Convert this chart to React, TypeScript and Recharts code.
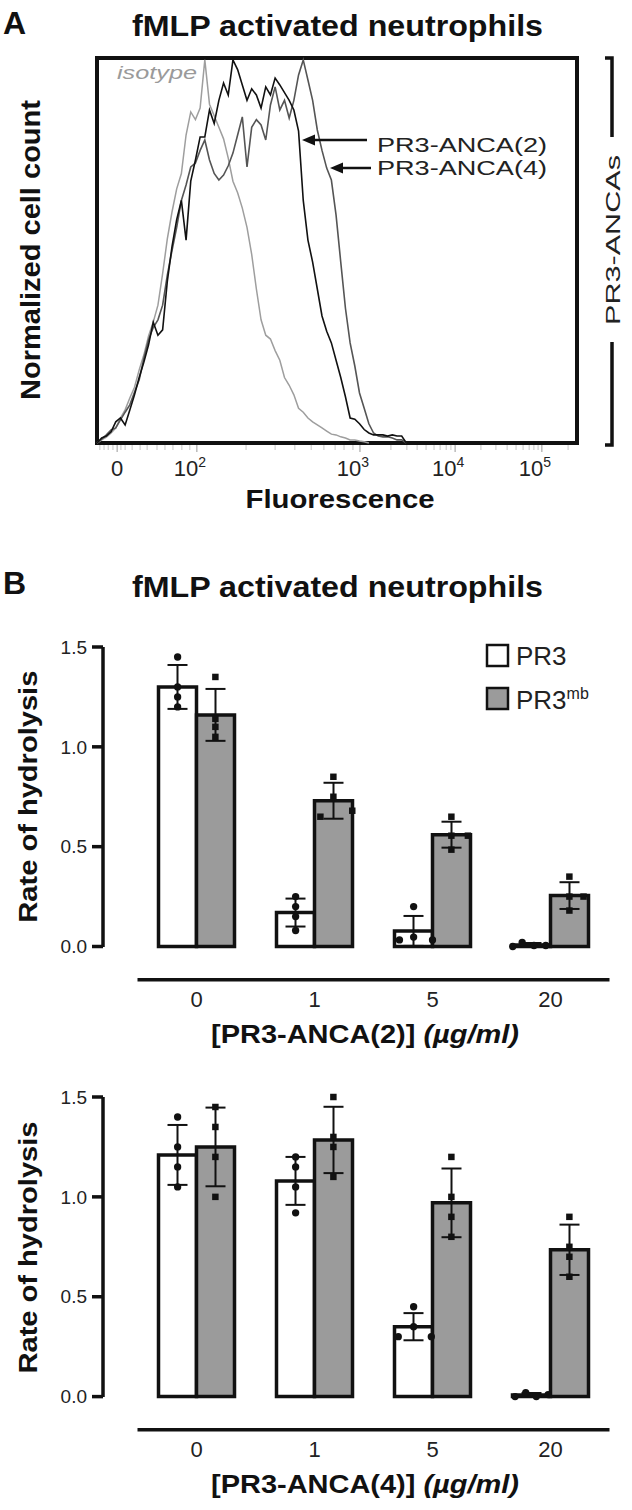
import {
  ComposedChart, LineChart, Line, Bar, Scatter, ErrorBar,
  XAxis, YAxis, ZAxis, ReferenceArea, ReferenceLine,
} from 'recharts';

const FONT = '"Liberation Sans", Arial, Helvetica, sans-serif';
const INK = '#111';
const BAR_GRAY = '#9b9b9b';

// Panel A: flow histograms. x = display channel (0-1024), y = normalized count (0-100)
const channels = [
  0, 10, 20, 30, 40, 50, 60, 70, 80, 90,
  100, 110, 120, 130, 140, 150, 160, 170, 180, 190,
  200, 210, 220, 230, 240, 250, 260, 270, 280, 290,
  300, 310, 320, 330, 340, 350, 360, 370, 380, 390,
  400, 410, 420, 430, 440, 450, 460, 470, 480, 490,
  500, 510, 520, 530, 540, 550, 560, 570, 580, 590,
  600, 610, 620, 630, 640, 650, 660,
];
const isotypeCounts = [
  0, 0.8, 1.5, 2.6, 3.9, 6.5, 8.6, 11.7, 14.5, 19,
  22.9, 27.8, 31.4, 35.8, 44, 53, 60, 66, 70, 80,
  86, 84, 87, 99.5, 88, 85, 82, 79, 74, 68,
  65, 61, 56, 49, 40, 32, 28, 27, 24, 21.5,
  17, 15, 12.5, 9, 8, 6.5, 5.5, 4.7, 3.9, 3.1,
  2.3, 2.1, 1.6, 1.3, 0.8, 0.8, 0.5, 0.3, 0, null,
  null, null, null, null, null, null, null,
];
const anca2Counts = [
  0, 1.3, 1.8, 2.9, 5.5, 6.5, 4.7, 8.6, 12.5, 17,
  21, 25.5, 31.4, 28, 29.4, 42, 51, 58, 63, 52.7,
  68, 73.5, 79.5, 79.5, 86.5, 83, 89, 93.5, 90.4, 99.5,
  97, 93, 89, 92, 90.4, 87, 92.5, 90.4, 94.8, 93,
  91, 89, 86.5, 81, 63, 52.7, 47, 40, 33, 29,
  26, 21.5, 17, 12, 6.5, 6.2, 5, 3.5, 2.6, 2.1,
  2.1, 2.1, 1.8, 2.1, 1.8, 1.8, 0,
];
const anca4Counts = [
  0, 1, 2.1, 3.4, 3.9, 6, 8, 9.9, 13.2, 16.4,
  22, 26.8, 30, 32, 35.8, 43.6, 50, 56, 63, 67,
  71.7, 72.7, 76, 78.7, 73.5, 70, 68.3, 69.6, 72, 75.3,
  80, 84.7, 71.7, 82, 84, 82.6, 78.7, 87.8, 92.5, 86.5,
  89, 84.4, 89, 95.6, 99.5, 94.3, 89, 81.3, 76, 71.4,
  68.3, 59.2, 47, 35, 26, 20, 13, 9, 5, 2.6,
  1.8, 1.6, 1.6, 1.3, 0.8, 0.8, 0,
];

const fluoMajorTicks = [43, 213, 561, 764, 949];
const fluoMajorLabels = ['0', '10', '10', '10', '10'];
const fluoMajorExp = ['', '2', '3', '4', '5'];
const fluoMinorTicks = [
  6, 15, 24, 34, 51, 60, 75, 92, 107, 128, 145, 162, 181, 198,
  318, 380, 422, 457, 484, 508, 527, 546,
  627, 661, 683, 702, 719, 732, 745, 755,
  819, 851, 875, 894, 909, 922, 932, 941, 1005,
];

// Panel B: rate of hydrolysis
const concentrations = ['0', '1', '5', '20'];

const anca2Pr3 = [1.30, 0.17, 0.078, 0.0075];
const anca2Pr3Sd = [0.11, 0.07, 0.075, 0.01];
const anca2Pr3mb = [1.16, 0.73, 0.56, 0.255];
const anca2Pr3mbSd = [0.13, 0.09, 0.065, 0.067];
const anca2Pr3Points = [
  [-0.16, 1.45], [-0.16, 1.30], [-0.16, 1.25], [-0.16, 1.20],
  [0.84, 0.25], [0.84, 0.20], [0.84, 0.15], [0.84, 0.08],
  [1.84, 0.20], [1.84, 0.047], [1.72, 0.033], [2.0, 0.033],
  [2.68, 0], [2.76, 0.02], [2.86, 0.005], [2.96, 0.005],
];
const anca2Pr3mbPoints = [
  [0.16, 1.35], [0.16, 1.14], [0.16, 1.10], [0.16, 1.05],
  [1.16, 0.85], [1.16, 0.75], [1.05, 0.65], [1.32, 0.68],
  [2.16, 0.65], [2.16, 0.555], [2.30, 0.555], [2.16, 0.485],
  [3.16, 0.35], [3.16, 0.25], [3.28, 0.25], [3.16, 0.18],
];

const anca4Pr3 = [1.21, 1.08, 0.35, 0.008];
const anca4Pr3Sd = [0.15, 0.12, 0.068, 0.01];
const anca4Pr3mb = [1.25, 1.285, 0.97, 0.735];
const anca4Pr3mbSd = [0.197, 0.166, 0.172, 0.126];
const anca4Pr3Points = [
  [-0.16, 1.40], [-0.16, 1.25], [-0.16, 1.15], [-0.16, 1.05],
  [0.84, 1.20], [0.84, 1.15], [0.84, 1.05], [0.84, 0.92],
  [1.84, 0.45], [1.84, 0.35], [1.71, 0.30], [1.99, 0.30],
  [2.70, 0], [2.79, 0.02], [2.88, 0], [2.98, 0.01],
];
const anca4Pr3mbPoints = [
  [0.16, 1.45], [0.16, 1.35], [0.16, 1.20], [0.16, 1.00],
  [1.16, 1.50], [1.16, 1.30], [1.16, 1.25], [1.16, 1.10],
  [2.16, 1.20], [2.16, 1.00], [2.16, 0.90], [2.16, 0.80],
  [3.16, 0.90], [3.16, 0.75], [3.16, 0.70], [3.16, 0.60],
];

const histData = channels.map((ch, i) => ({
  ch, iso: isotypeCounts[i], a2: anca2Counts[i], a4: anca4Counts[i],
}));

function FluoTick({ x, y, payload }: any) {
  const k = fluoMajorTicks.indexOf(payload.value);
  const major = k >= 0;
  return (
    <g>
      <line x1={x} x2={x} y1={y + 2} y2={y + (major ? 9 : 7)}
        stroke={major ? '#aaa' : '#cfcfcf'} strokeWidth={1.2} />
      {major && (
        <text x={fluoMajorExp[k] ? x - 7 : x} y={y + 33} textAnchor="middle"
          fontFamily={FONT} fontSize={22} fill="#222">
          {fluoMajorLabels[k]}
          {fluoMajorExp[k] && <tspan dy={-9} fontSize={14}>{fluoMajorExp[k]}</tspan>}
        </text>
      )}
    </g>
  );
}

function Histogram() {
  return (
    <LineChart width={632} height={530} data={histData}
      margin={{ top: 58, right: 55, bottom: 37, left: 97 }}>
      <XAxis dataKey="ch" type="number" domain={[0, 1024]} height={50}
        ticks={[...fluoMinorTicks, ...fluoMajorTicks]} interval={0}
        axisLine={false} tickLine={false} tickSize={0} tickMargin={0} tick={<FluoTick />} />
      <YAxis type="number" domain={[0, 100]} hide />
      <Line dataKey="iso" stroke="#9e9e9e" strokeWidth={1.5} dot={false} isAnimationActive={false} />
      <Line dataKey="a4" stroke="#555" strokeWidth={1.6} dot={false} isAnimationActive={false} />
      <Line dataKey="a2" stroke={INK} strokeWidth={1.6} dot={false} isAnimationActive={false} />
      <ReferenceArea x1={0} x2={1024} y1={0} y2={100} fill="none" stroke={INK} strokeWidth={4} ifOverflow="visible" />
    </LineChart>
  );
}

function ConcTick({ x, y, payload }: any) {
  return (
    <text x={x} y={y + 60} textAnchor="middle" fontFamily={FONT} fontSize={22} fill="#222">
      {payload.value}
    </text>
  );
}

interface BarPanelProps {
  top: number;
  pr3: number[];
  pr3Sd: number[];
  pr3mb: number[];
  pr3mbSd: number[];
  pr3Points: number[][];
  pr3mbPoints: number[][];
}

function BarPanel({ top, pr3, pr3Sd, pr3mb, pr3mbSd, pr3Points, pr3mbPoints }: BarPanelProps) {
  const rows = concentrations.map((c, i) => ({
    conc: c, pr3: pr3[i], pr3Sd: pr3Sd[i], pr3mb: pr3mb[i], pr3mbSd: pr3mbSd[i],
  }));
  const dotsA = pr3Points.map(([x, y]) => ({ x, y }));
  const dotsB = pr3mbPoints.map(([x, y]) => ({ x, y }));
  return (
    <div style={{ position: 'absolute', left: 0, top }}>
      <ComposedChart width={632} height={460} data={rows} barGap={0} barSize={38}
        margin={{ top: 47, right: 22.5, bottom: 53, left: 43 }}>
        <XAxis dataKey="conc" type="category" height={60} padding={{ left: 34.5, right: 0 }}
          axisLine={false} tickLine={false} tickSize={0} tickMargin={0} tick={<ConcTick />} />
        <XAxis xAxisId="num" dataKey="x" type="number" domain={[-0.5, 3.5]}
          padding={{ left: 34.5, right: 0 }} hide />
        <YAxis type="number" domain={[0, 1.5]} ticks={[0, 0.5, 1, 1.5]} width={60}
          tickFormatter={(v: number) => v.toFixed(1)} tickSize={11} tickMargin={5}
          axisLine={{ stroke: INK, strokeWidth: 3.5 }} tickLine={{ stroke: INK, strokeWidth: 3.5 }}
          tick={{ fontSize: 19, fill: '#222', fontFamily: FONT }} />
        <ZAxis type="number" range={[42, 42]} />
        <Bar dataKey="pr3" fill="#fff" stroke={INK} strokeWidth={3.5} isAnimationActive={false}>
          <ErrorBar dataKey="pr3Sd" width={10} stroke={INK} strokeWidth={2} direction="y" />
        </Bar>
        <Bar dataKey="pr3mb" fill={BAR_GRAY} stroke={INK} strokeWidth={3.5} isAnimationActive={false}>
          <ErrorBar dataKey="pr3mbSd" width={10} stroke={INK} strokeWidth={2} direction="y" />
        </Bar>
        <Scatter xAxisId="num" data={dotsA} dataKey="y" shape="circle" fill={INK} isAnimationActive={false} />
        <Scatter xAxisId="num" data={dotsB} dataKey="y" shape="square" fill={INK} isAnimationActive={false} />
        <ReferenceLine xAxisId="num" ifOverflow="visible" stroke={INK} strokeWidth={3.5}
          segment={[{ x: -0.5, y: -0.1665 }, { x: 3.5, y: -0.1665 }]} />
      </ComposedChart>
    </div>
  );
}

function Arrow({ x1, x2, y }: { x1: number; x2: number; y: number }) {
  return (
    <g>
      <line x1={x1} x2={x2 + 10} y1={y} y2={y} stroke={INK} strokeWidth={2.5} />
      <polygon points={`${x2},${y} ${x2 + 13},${y - 5.5} ${x2 + 13},${y + 5.5}`} fill={INK} />
    </g>
  );
}

function Overlay() {
  const bold = { fontFamily: FONT, fontWeight: 700, fill: INK } as const;
  const plain = { fontFamily: FONT, fill: '#222' } as const;
  return (
    <svg width={632} height={1510} style={{ position: 'absolute', left: 0, top: 0 }}>
      <text x={3} y={34} fontSize={32} {...bold}>A</text>
      <text x={337.5} y={36} fontSize={30} textAnchor="middle" textLength={411} lengthAdjust="spacingAndGlyphs" {...bold}>
        fMLP activated neutrophils
      </text>
      <text x={117} y={79} fontSize={19} fontStyle="italic" fontFamily={FONT} fill="#9a9a9a"
        textLength={80} lengthAdjust="spacingAndGlyphs">isotype</text>
      <Arrow x1={367} x2={302} y={140} />
      <Arrow x1={371} x2={330} y={168} />
      <text x={377} y={152} fontSize={20} textLength={170} lengthAdjust="spacingAndGlyphs" {...plain}>PR3-ANCA(2)</text>
      <text x={377} y={175} fontSize={20} textLength={170} lengthAdjust="spacingAndGlyphs" {...plain}>PR3-ANCA(4)</text>
      <text transform="translate(40,250) rotate(-90)" fontSize={27} textAnchor="middle"
        textLength={300} lengthAdjust="spacingAndGlyphs" {...bold}>Normalized cell count</text>
      <text x={340} y={508} fontSize={25} textAnchor="middle" textLength={189} lengthAdjust="spacingAndGlyphs" {...bold}>
        Fluorescence
      </text>
      <path d="M605,58 L612,58 L612,137 M612,342 L612,445 L605,445" fill="none" stroke={INK} strokeWidth={3.5} />
      <text transform="translate(620,240) rotate(-90)" fontSize={21} textAnchor="middle"
        textLength={170} lengthAdjust="spacingAndGlyphs" {...plain}>PR3-ANCAs</text>

      <text x={3} y={594} fontSize={32} {...bold}>B</text>
      <text x={337.5} y={597} fontSize={30} textAnchor="middle" textLength={411} lengthAdjust="spacingAndGlyphs" {...bold}>
        fMLP activated neutrophils
      </text>
      <rect x={487} y={645} width={21} height={21} fill="#fff" stroke={INK} strokeWidth={2.5} />
      <rect x={487} y={688} width={21} height={21} fill={BAR_GRAY} stroke={INK} strokeWidth={2.5} />
      <text x={516} y={665} fontSize={26} {...plain}>PR3</text>
      <text x={516} y={709} fontSize={26} {...plain}>
        PR3<tspan dy={-10} fontSize={16}>mb</tspan>
      </text>

      {[796.7, 1247.5].map((cy) => (
        <text key={cy} transform={`translate(37,${cy}) rotate(-90)`} fontSize={25} textAnchor="middle"
          textLength={252} lengthAdjust="spacingAndGlyphs" {...bold}>Rate of hydrolysis</text>
      ))}
      {[['2', 1043], ['4', 1493]].map(([n, by]) => (
        <text key={n} x={365} y={by as number} fontSize={25} textAnchor="middle"
          textLength={308} lengthAdjust="spacingAndGlyphs" {...bold}>
          [PR3-ANCA({n})] <tspan fontStyle="italic">(µg/ml)</tspan>
        </text>
      ))}
    </svg>
  );
}

export default function App() {
  return (
    <div style={{ position: 'absolute', left: 0, top: 0, width: 632, height: 1510, background: '#fff', fontFamily: FONT }}>
      <div style={{ position: 'absolute', left: 0, top: 0 }}>
        <Histogram />
      </div>
      <BarPanel top={600} pr3={anca2Pr3} pr3Sd={anca2Pr3Sd} pr3mb={anca2Pr3mb} pr3mbSd={anca2Pr3mbSd}
        pr3Points={anca2Pr3Points} pr3mbPoints={anca2Pr3mbPoints} />
      <BarPanel top={1050} pr3={anca4Pr3} pr3Sd={anca4Pr3Sd} pr3mb={anca4Pr3mb} pr3mbSd={anca4Pr3mbSd}
        pr3Points={anca4Pr3Points} pr3mbPoints={anca4Pr3mbPoints} />
      <Overlay />
    </div>
  );
}
